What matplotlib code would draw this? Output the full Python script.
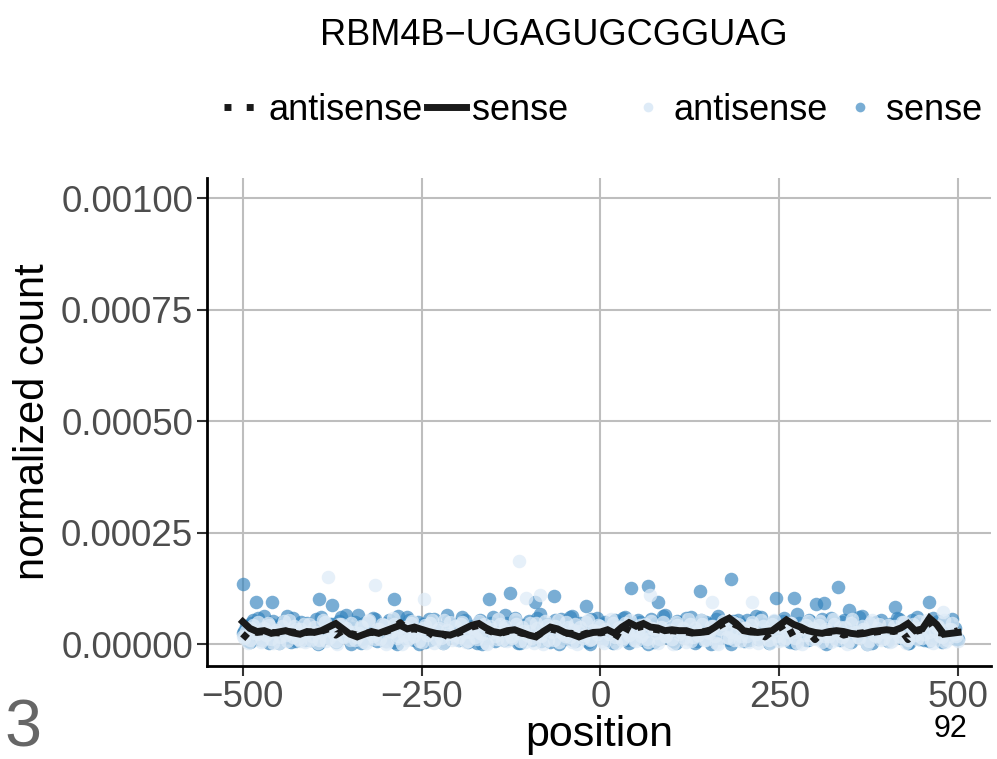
# Perfil de contagem normalizada em torno do motivo RBM4B
# pontos = contagem por posicao, linhas = media por janela de 10 nt

import numpy as np
import matplotlib.pyplot as plt
from matplotlib.lines import Line2D

plt.rcParams['font.family'] = ['Liberation Sans', 'DejaVu Sans']

# posicoes dos pontos (duas grades a cada 5 nt) e das linhas (a cada 10 nt)
pos_pontos = list(range(-500, 501, 5))
pos_pontos2 = list(range(-498, 498, 5))
pos_linhas = list(range(-500, 501, 10))

# valores em unidades de 1e-6
antisense_pontos = [
    18, 30, 8, 42, 22, 5, 35, 48, 12, 26, 3, 40, 20, 55, 15, 33, 7, 45, 28, 10,
    38, 2, 24, 50, 14, 30, 6, 44, 19, 36, 9, 27, 16, 41, 4, 52, 23, 11, 34, 46,
    1, 29, 58, 13, 39, 21, 8, 47, 17, 32, 5, 43, 25, 54, 12, 37, 3, 31, 49, 20,
    9, 44, 27, 6, 36, 15, 51, 22, 2, 40, 28, 11, 46, 33, 7, 19, 56, 24, 38, 4,
    30, 13, 48, 21, 1, 42, 35, 10, 53, 26, 17, 39, 5, 45, 29, 14, 50, 8, 32, 23,
    41, 3, 27, 57, 16, 37, 9, 47, 20, 31, 6, 43, 25, 12, 52, 34, 2, 39, 18, 28,
    11, 49, 22, 35, 4, 44, 15, 30, 55, 8, 26, 40, 19, 1, 46, 33, 13, 50, 24, 7,
    37, 17, 42, 28, 3, 54, 21, 10, 45, 31, 6, 39, 14, 48, 26, 2, 36, 20, 51, 12,
    29, 43, 5, 34, 18, 56, 9, 38, 23, 1, 47, 27, 15, 41, 32, 7, 53, 19, 44, 11,
    25, 4, 40, 30, 16, 49, 8, 35, 21, 52, 13, 45, 27, 3, 38, 18, 55, 10, 33, 22,
    6]
antisense_pontos2 = [
    14, 3, 37, 25, 49, 9, 21, 43, 2, 31, 16, 52, 7, 28, 40, 12, 34, 4, 46, 19,
    27, 10, 53, 6, 36, 22, 1, 44, 15, 30, 48, 8, 24, 39, 3, 55, 18, 33, 11, 42,
    5, 26, 45, 17, 0, 38, 13, 51, 29, 7, 35, 20, 47, 2, 32, 14, 54, 23, 9, 41,
    16, 50, 4, 28, 37, 11, 24, 46, 1, 33, 19, 57, 8, 40, 26, 13, 44, 6, 30, 21,
    47, 2, 35, 18, 52, 10, 27, 41, 5, 23, 49, 15, 31, 0, 38, 20, 55, 12, 29, 43,
    7, 34, 22, 48, 3, 39, 14, 26, 53, 9, 30, 17, 45, 4, 36, 24, 11, 50, 19, 32,
    1, 42, 28, 13, 56, 6, 37, 21, 46, 10, 25, 40, 3, 33, 51, 16, 27, 8, 44, 18,
    35, 5, 49, 23, 12, 41, 30, 2, 54, 17, 38, 9, 26, 47, 14, 32, 0, 43, 21, 36,
    11, 52, 19, 29, 4, 45, 24, 15, 39, 7, 56, 28, 13, 34, 1, 48, 20, 37, 10, 26,
    42, 6, 31, 17, 50, 3, 25, 44, 12, 36, 22, 53, 8, 29, 40, 15, 4, 33, 47, 18]
sense_pontos = [
    25, 40, 4, 55, 12, 33, 62, 8, 45, 20, 2, 50, 30, 15, 58, 6, 38, 22, 48, 10,
    35, 1, 60, 28, 14, 44, 5, 52, 19, 66, 9, 36, 24, 3, 47, 31, 12, 56, 18, 41,
    7, 53, 26, 0, 43, 16, 61, 33, 10, 49, 21, 4, 57, 29, 14, 39, 2, 64, 23, 45,
    11, 36, 55, 5, 30, 18, 50, 1, 42, 27, 60, 13, 34, 8, 47, 20, 58, 3, 39, 24,
    52, 9, 31, 68, 15, 44, 4, 37, 22, 56, 12, 28, 63, 6, 41, 17, 49, 1, 33, 59,
    20, 46, 8, 35, 54, 13, 27, 61, 2, 40, 18, 50, 10, 32, 57, 5, 43, 24, 65, 14,
    38, 3, 48, 26, 58, 11, 34, 7, 53, 21, 44, 1, 30, 62, 16, 39, 9, 51, 25, 46,
    6, 55, 19, 37, 12, 60, 28, 2, 45, 33, 15, 52, 23, 4, 41, 67, 18, 35, 8, 49,
    27, 13, 57, 1, 43, 22, 36, 10, 54, 30, 5, 48, 17, 63, 26, 40, 3, 50, 20, 34,
    9, 46, 24, 59, 14, 38, 2, 53, 28, 11, 44, 32, 6, 58, 19, 42, 15, 50, 23, 36,
    12]
sense_pontos2 = [
    30, 6, 47, 18, 59, 10, 37, 2, 52, 24, 42, 14, 63, 5, 33, 21, 49, 9, 40, 27,
    56, 3, 35, 16, 45, 26, 8, 61, 19, 38, 0, 50, 29, 12, 44, 22, 58, 7, 34, 15,
    48, 25, 4, 62, 31, 13, 53, 20, 39, 1, 46, 28, 10, 57, 17, 36, 5, 51, 23, 42,
    9, 60, 27, 14, 41, 3, 55, 32, 19, 47, 7, 38, 24, 64, 11, 30, 50, 2, 43, 21,
    35, 16, 58, 6, 45, 26, 12, 53, 1, 39, 22, 61, 9, 33, 48, 18, 4, 56, 28, 40,
    13, 50, 31, 2, 44, 20, 59, 8, 36, 25, 54, 15, 41, 0, 29, 47, 11, 62, 23, 37,
    6, 52, 17, 43, 28, 60, 3, 34, 21, 49, 10, 38, 57, 14, 26, 45, 1, 32, 55, 19,
    41, 8, 30, 63, 15, 46, 24, 5, 51, 35, 12, 58, 20, 40, 2, 48, 27, 9, 54, 33,
    16, 44, 4, 37, 59, 22, 11, 50, 29, 6, 42, 18, 61, 31, 0, 47, 25, 13, 53, 36,
    7, 39, 26, 56, 14, 45, 3, 34, 60, 21, 10, 48, 30, 17, 52, 5, 41, 24, 57, 12]

# pontos isolados acima da faixa
sense_out_pos = [-500, -482, -459, -394, -375, -339, -289, -156, -127, -92, -65,
                 -20, 43, 66, 80, 139, 183, 245, 271, 302, 313, 332, 348, 412, 460]
sense_out_val = [134, 94, 94, 101, 87, 65, 101, 101, 114, 94, 108,
                 85, 126, 130, 94, 119, 146, 103, 103, 90, 92, 128, 76, 83, 94]
antisense_out_pos = [-381, -315, -246, -114, -104, -85, 69, 156, 212, 479]
antisense_out_val = [150, 132, 101, 186, 103, 110, 110, 94, 94, 72]

# medias por janela
sense_linha = [
    50, 35, 28, 30, 24, 27, 30, 25, 22, 28, 26, 30, 38, 46, 34, 22, 16, 22, 28, 24,
    30, 36, 42, 34, 38, 33, 28, 24, 22, 20, 26, 34, 42, 46, 36, 28, 25, 30, 32, 26,
    20, 16, 28, 38, 34, 26, 22, 16, 22, 26, 27, 32, 24, 38, 48, 40, 46, 38, 36, 30,
    32, 30, 30, 25, 26, 28, 38, 50, 58, 46, 30, 27, 26, 28, 30, 42, 54, 44, 38, 30,
    26, 24, 28, 30, 28, 24, 22, 24, 28, 30, 32, 30, 36, 46, 30, 34, 58, 44, 22, 24,
    26]
antisense_linha = [
    12, 30, 26, 28, 26, 25, 28, 27, 24, 26, 28, 29, 34, 20, 30, 24, 20, 24, 26, 25,
    28, 34, 48, 32, 34, 30, 26, 14, 22, 14, 24, 30, 38, 42, 32, 26, 24, 28, 30, 24,
    22, 18, 26, 34, 30, 24, 24, 18, 24, 26, 25, 28, 22, 12, 42, 36, 40, 34, 32, 28,
    30, 28, 27, 24, 26, 30, 34, 44, 50, 42, 36, 30, 26, 16, 28, 36, 46, 16, 34, 28,
    10, 26, 26, 28, 20, 24, 24, 26, 26, 28, 30, 28, 32, 10, 28, 32, 50, 26, 24, 26,
    30]

escala = 1e-6
cor_sense = '#3182bd'
cor_antisense = '#deebf7'
tam = 95

fig = plt.figure(figsize=(9.97, 7.59), dpi=100)
ax = fig.add_axes([0.2076, 0.1225, 0.7864, 0.643])

# pontos: sense primeiro, antisense por cima
for xs, ys in [(pos_pontos, sense_pontos), (pos_pontos2, sense_pontos2),
               (sense_out_pos, sense_out_val)]:
    ax.scatter(xs, np.array(ys) * escala, s=tam, color=cor_sense,
               alpha=0.65, linewidths=0, zorder=3)
for xs, ys in [(pos_pontos, antisense_pontos), (pos_pontos2, antisense_pontos2),
               (antisense_out_pos, antisense_out_val)]:
    ax.scatter(xs, np.array(ys) * escala, s=tam, color=cor_antisense,
               alpha=0.75, linewidths=0, zorder=4)

# linhas de media
ax.plot(pos_linhas, np.array(antisense_linha) * escala, color='#1a1a1a', lw=5,
        linestyle=(0, (1, 1.4)), solid_capstyle='butt', zorder=5)
ax.plot(pos_linhas, np.array(sense_linha) * escala, color='#1a1a1a', lw=5,
        solid_joinstyle='miter', zorder=6)

ax.set_xlim(-550, 546)
ax.set_ylim(-0.0000493, 0.001045)
ax.set_xticks([-500, -250, 0, 250, 500])
ax.set_yticks([0, 0.00025, 0.0005, 0.00075, 0.001])
ax.set_yticklabels(['0.00000', '0.00025', '0.00050', '0.00075', '0.00100'])
ax.grid(True, color='#bebebe', lw=1.5, zorder=0)
ax.set_axisbelow(True)

for lado in ['top', 'right']:
    ax.spines[lado].set_visible(False)
for lado in ['left', 'bottom']:
    ax.spines[lado].set_linewidth(2)
    ax.spines[lado].set_color('black')

ax.tick_params(axis='both', labelsize=26.5, labelcolor='#4d4d4d', length=7,
               width=1.5, color='#333333', pad=3)
ax.set_xlabel('position', fontsize=31, labelpad=0)
ax.set_ylabel('normalized count', fontsize=30, labelpad=6)

fig.text(0.555, 0.953, 'RBM4B\u2212UGAGUGCGGUAG', fontsize=26, ha='center', va='center')

# legendas no topo
h_linhas = [Line2D([], [], color='#1a1a1a', lw=5, linestyle=(0, (1, 2.2))),
            Line2D([], [], color='#1a1a1a', lw=5)]
leg1 = fig.legend(h_linhas, ['antisense', 'sense'], loc='center',
                  bbox_to_anchor=(0.397, 0.855), ncol=2, frameon=False,
                  fontsize=26, handlelength=1.1, handletextpad=0.15,
                  columnspacing=0.1)
h_pontos = [Line2D([], [], marker='o', ls='', color=cor_antisense, markersize=7, mew=0),
            Line2D([], [], marker='o', ls='', color=cor_sense, alpha=0.65,
                   markersize=7, mew=0)]
leg2 = fig.legend(h_pontos, ['antisense', 'sense'], loc='center',
                  bbox_to_anchor=(0.812, 0.855), ncol=2, frameon=False,
                  fontsize=26, handlelength=0.6, handletextpad=0.4,
                  columnspacing=0.6)

# anotacoes soltas da figura original
fig.text(0.004, 0.016, '3', fontsize=48, color='#666666', ha='left', va='baseline')
fig.text(0.953, 0.040, '92', fontsize=22, color='black', ha='center', va='center')

plt.savefig('out.png', dpi=100)
